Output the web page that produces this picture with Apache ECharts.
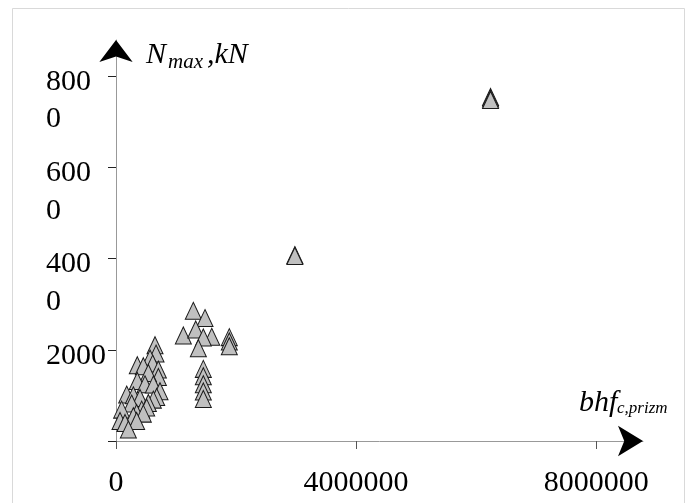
<!DOCTYPE html>
<html>
<head>
<meta charset="utf-8">
<script src="https://cdn.jsdelivr.net/npm/echarts@6/dist/echarts.min.js"></script>
<style>
html, body { margin: 0; padding: 0; background: #fff; }
#chart { width: 687px; height: 503px; }
</style>
</head>
<body>
<div id="chart"></div>
<script>
// bhf_c,prizm (x) and N_max, kN (y)
const bhf = [
  650000, 667000, 567000, 611000, 355000, 455000, 706000, 706000, 539000,
  355000, 483000, 622000, 733000, 678000, 178000, 289000, 400000, 622000,
  539000, 261000, 94000, 428000, 511000, 344000, 455000, 289000, 67000,
  150000, 344000, 206000,
  1288000, 1483000, 1122000, 1328000, 1595000, 1455000, 1372000,
  1888000, 1888000, 1888000,
  1455000, 1455000, 1455000, 1455000, 1455000,
  2980000, 2980000,
  6240000, 6240000, 6240000
]
const nmax = [
  2099, 1917, 1807, 1697, 1660, 1638, 1565, 1404, 1491,
  1316, 1243, 1237, 1090, 965, 1017, 1002, 943, 907,
  833, 820, 688, 688, 732, 614, 600, 542, 439,
  395, 439, 250,
  2854, 2694, 2314, 2446, 2283, 2270, 2035,
  2277, 2182, 2079,
  1581, 1420, 1245, 1085, 922,
  4075, 4055,
  7541, 7508, 7475
]
const xTickValues = [0, 4000000, 8000000]
const xTickLabels = ['0', '4000000', '8000000']
const yTickValues = [0, 2000, 4000, 6000, 8000]
const yTickLabels = ['', '2000', '400\n0', '600\n0', '800\n0']

const serif = "'Liberation Serif', 'Times New Roman', serif"
const points = bhf.map((x, i) => [x, nmax[i]])

const myChart = echarts.init(document.getElementById('chart'))
const option = {
  animation: false,
  backgroundColor: '#fff',
  grid: { left: 116, top: 40, right: 44, bottom: 62 },
  xAxis: [
    {
      type: 'value',
      min: 0,
      max: 8780000,
      splitLine: { show: false },
      axisLine: { show: true, onZero: false, lineStyle: { color: '#999', width: 1 } },
      axisTick: { show: true, length: 8, customValues: xTickValues, lineStyle: { color: '#555' } },
      axisLabel: {
        customValues: xTickValues,
        margin: 27,
        fontSize: 30,
        fontFamily: serif,
        color: '#000',
        formatter: v => xTickLabels[xTickValues.indexOf(v)] || ''
      }
    },
    {
      // arrow head only
      type: 'value',
      position: 'bottom',
      min: 0,
      max: 8780000,
      splitLine: { show: false },
      axisLine: { show: true, onZero: false, symbol: ['none', 'arrow'], symbolSize: [23, 25], lineStyle: { color: '#000', width: 0 } },
      axisTick: { show: false },
      axisLabel: { show: false }
    }
  ],
  yAxis: [
    {
      type: 'value',
      min: 0,
      max: 8790,
      splitLine: { show: false },
      axisLine: { show: true, onZero: false, lineStyle: { color: '#999', width: 1 } },
      axisTick: { show: true, length: 8, customValues: yTickValues, lineStyle: { color: '#222' } },
      axisLabel: {
        customValues: yTickValues,
        margin: 70,
        align: 'left',
        verticalAlign: 'top',
        formatter: v => {
          const lab = yTickLabels[yTickValues.indexOf(v)] || ''
          if (!lab) return ''
          return lab.split('\n').map((s, i) => '{' + (i ? 'b' : 'a') + '|' + s + '}').join('\n')
        },
        rich: {
          a: { fontSize: 30, fontFamily: serif, color: '#000', lineHeight: 12 },
          b: { fontSize: 30, fontFamily: serif, color: '#000', lineHeight: 63 }
        }
      }
    },
    {
      type: 'value',
      position: 'left',
      min: 0,
      max: 8790,
      splitLine: { show: false },
      axisLine: { show: true, onZero: false, symbol: ['none', 'arrow'], symbolSize: [25, 22], lineStyle: { color: '#000', width: 0 } },
      axisTick: { show: false },
      axisLabel: { show: false }
    }
  ],
  graphic: [
    {
      type: 'rect',
      silent: true,
      shape: { x: 12.5, y: 8.5, width: 672, height: 500 },
      style: { fill: 'none', stroke: '#d9d9d9', lineWidth: 1 }
    },
    { type: 'text', x: 146, y: 55, style: { text: 'N', font: 'italic 30px ' + serif, fill: '#000', verticalAlign: 'middle' } },
    { type: 'text', x: 168, y: 62.5, style: { text: 'max', font: 'italic 21px ' + serif, fill: '#000', verticalAlign: 'middle' } },
    { type: 'text', x: 207, y: 55, style: { text: ',kN', font: 'italic 30px ' + serif, fill: '#000', verticalAlign: 'middle' } },
    { type: 'text', x: 579, y: 403.5, style: { text: 'bhf', font: 'italic 30px ' + serif, fill: '#000', verticalAlign: 'middle' } },
    { type: 'text', x: 617, y: 408.5, style: { text: 'c,prizm', font: 'italic 17px ' + serif, fill: '#000', verticalAlign: 'middle' } }
  ],
  series: [
    {
      type: 'scatter',
      xAxisIndex: 0,
      yAxisIndex: 0,
      symbol: 'triangle',
      symbolSize: [16, 17],
      itemStyle: { color: '#c0c0c0', borderColor: '#1a1a1a', borderWidth: 1, opacity: 1 },
      data: points
    }
  ]
}
myChart.setOption(option)
</script>
</body>
</html>
